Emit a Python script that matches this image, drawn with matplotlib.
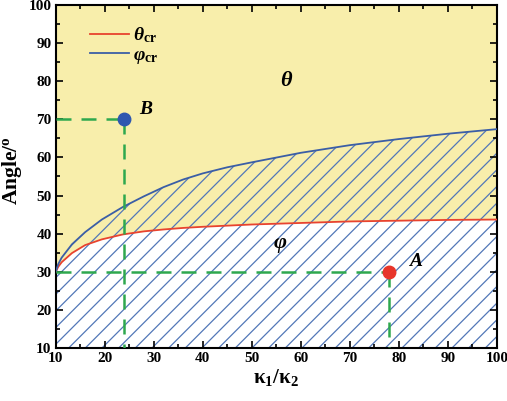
import matplotlib
matplotlib.use("Agg")
import matplotlib.pyplot as plt
import numpy as np

plt.rcParams['font.family'] = ['Liberation Serif', 'DejaVu Serif']
plt.rcParams['mathtext.fontset'] = 'custom'
plt.rcParams['mathtext.rm'] = 'Liberation Serif:bold'
plt.rcParams['mathtext.it'] = 'Liberation Serif:bold:italic'
plt.rcParams['mathtext.bf'] = 'Liberation Serif:bold'
plt.rcParams['hatch.linewidth'] = 0.9

# data
k_ratio = [10, 10.5, 11.2, 13.3, 16, 19.4, 23.7, 28, 32, 36, 40, 45, 50, 60, 70, 80, 90, 100]
theta_cr = [30, 31.3, 32.5, 34.9, 37.0, 38.5, 39.8, 40.6, 41.1, 41.5, 41.8, 42.1, 42.4, 42.8, 43.2, 43.4, 43.6, 43.7]
phi_cr = [30, 32.0, 33.7, 37.2, 40.4, 43.7, 47.0, 49.8, 52.2, 54.2, 55.8, 57.4, 58.7, 61.2, 63.2, 64.8, 66.2, 67.4]
point_A = (78, 30)
point_B = (24, 70)

fig = plt.figure(figsize=(5.07, 4.01), dpi=100)
ax = fig.add_axes([0.110, 0.132, 0.870, 0.856])

x = np.array(k_ratio)
ax.fill_between(x, theta_cr, 100, facecolor='#f8eeab', edgecolor='none', zorder=0)
ax.fill_between(x, 10, phi_cr, facecolor='none', edgecolor='#5277b8', hatch='//', linewidth=0, zorder=1)

ax.plot(x, theta_cr, color='#e8432e', lw=1.3, label=r'$\theta_{\mathrm{cr}}$', zorder=3)
ax.plot(x, phi_cr, color='#3b5ea6', lw=1.3, label=r'$\varphi_{\mathrm{cr}}$', zorder=3)

green = '#2ea84e'
for (px, py) in (point_A, point_B):
    ax.plot([10, px], [py, py], color=green, lw=1.8, dashes=(6, 4), zorder=4)
    ax.plot([px, px], [py, 10], color=green, lw=1.8, dashes=(6, 4), zorder=4)
ax.plot(*point_A, 'o', color='#e8352a', ms=9, zorder=5)
ax.plot(*point_B, 'o', color='#2f57b0', ms=9, zorder=5)

ax.text(point_A[0] + 4, point_A[1] + 1.5, 'A', fontsize=14, fontweight='bold', style='italic', zorder=6)
ax.text(point_B[0] + 3.0, point_B[1] + 1.5, 'B', fontsize=14, fontweight='bold', style='italic', zorder=6)
ax.text(57, 80, r'$\theta$', fontsize=16, ha='center', va='center', zorder=6)
ax.text(55.7, 37, r'$\varphi$', fontsize=16, ha='center', va='center', zorder=6)

ax.set_xlim(10, 100)
ax.set_ylim(10, 100)
ax.set_xticks(np.arange(10, 101, 10))
ax.set_yticks(np.arange(10, 101, 10))
ax.set_xticks(np.arange(15, 100, 10), minor=True)
ax.set_yticks(np.arange(15, 100, 10), minor=True)
ax.tick_params(which='both', direction='in', top=True, right=True, width=1.2)
ax.tick_params(which='major', length=5, labelsize=11, pad=3)
ax.tick_params(which='minor', length=3)
for lab in ax.get_xticklabels() + ax.get_yticklabels():
    lab.set_fontweight('bold')
for s in ax.spines.values():
    s.set_linewidth(1.5)

ax.set_xlabel(r'$\mathbf{\kappa_1/\kappa_2}$', fontsize=15, labelpad=1)
ax.set_ylabel(r'Angle/$^\mathrm{o}$', fontsize=15.5, fontweight='bold')
ax.yaxis.set_label_coords(-0.072, 0.516)

leg = ax.legend(loc='upper left', bbox_to_anchor=(0.038, 0.99), frameon=False,
                fontsize=14, handlelength=2.0, handletextpad=0.2, labelspacing=0.05,
                borderaxespad=0.5)

fig.savefig('out.png', dpi=100)
